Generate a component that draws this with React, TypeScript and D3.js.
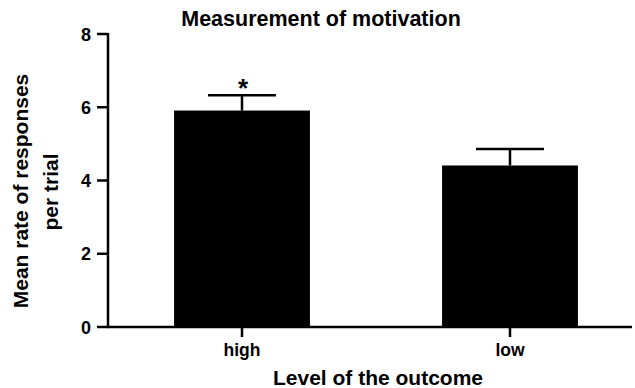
import { scaleLinear, scalePoint } from "d3";

const categories = ["high", "low"];
const means = [5.91, 4.41];
const errors = [0.42, 0.45];
const significant = [true, false];
const yTicks = [0, 2, 4, 6, 8];

const width = 635;
const height = 388;
const margin = { top: 34, right: 3, bottom: 61, left: 108 };
const font = "'Liberation Sans', Arial, Helvetica, sans-serif";

export default function App() {
  const innerBottom = height - margin.bottom;
  const y = scaleLinear().domain([0, 8]).range([innerBottom, margin.top]);
  const x = scalePoint()
    .domain(categories)
    .range([margin.left, 644])
    .padding(0.5);
  const barWidth = x.step() * 0.507;
  const capWidth = barWidth / 2;

  return (
    <svg
      width={width}
      height={height}
      style={{ position: "absolute", left: 0, top: 0, background: "#fff" }}
      fontFamily={font}
      fontWeight="bold"
    >
      <text x={321} y={26} textAnchor="middle" fontSize={21.5}>
        Measurement of motivation
      </text>

      {/* bars */}
      {categories.map((c, i) => {
        const cx = x(c) as number;
        const top = y(means[i]);
        const errTop = y(means[i] + errors[i]);
        return (
          <g key={c}>
            <rect
              x={cx - barWidth / 2}
              y={top}
              width={barWidth}
              height={innerBottom - top}
              fill="#000"
            />
            <line x1={cx} x2={cx} y1={top} y2={errTop} stroke="#000" strokeWidth={2.5} />
            <line
              x1={cx - capWidth / 2}
              x2={cx + capWidth / 2}
              y1={errTop}
              y2={errTop}
              stroke="#000"
              strokeWidth={2.5}
            />
            {significant[i] && (
              <text x={cx + 1} y={errTop + 2} textAnchor="middle" fontSize={26}>
                *
              </text>
            )}
          </g>
        );
      })}

      {/* y axis */}
      <line
        x1={margin.left}
        x2={margin.left}
        y1={y(8) - 1}
        y2={innerBottom + 1}
        stroke="#000"
        strokeWidth={2.5}
      />
      {yTicks.map((t) => (
        <g key={t}>
          <line x1={97} x2={margin.left} y1={y(t)} y2={y(t)} stroke="#000" strokeWidth={2.5} />
          <text x={91} y={y(t) + 6.5} textAnchor="end" fontSize={18}>
            {t}
          </text>
        </g>
      ))}

      {/* x axis */}
      <line
        x1={margin.left - 1}
        x2={width - margin.right}
        y1={innerBottom}
        y2={innerBottom}
        stroke="#000"
        strokeWidth={2.5}
      />
      {categories.map((c) => (
        <g key={c}>
          <line
            x1={x(c)}
            x2={x(c)}
            y1={innerBottom}
            y2={innerBottom + 10}
            stroke="#000"
            strokeWidth={2.5}
          />
          <text x={x(c)} y={356} textAnchor="middle" fontSize={17.5}>
            {c}
          </text>
        </g>
      ))}

      <text x={378} y={385} textAnchor="middle" fontSize={21}>
        Level of the outcome
      </text>

      <text transform="translate(28,191) rotate(-90)" textAnchor="middle" fontSize={21}>
        Mean rate of responses
      </text>
      <text transform="translate(58,192) rotate(-90)" textAnchor="middle" fontSize={21}>
        per trial
      </text>
    </svg>
  );
}
